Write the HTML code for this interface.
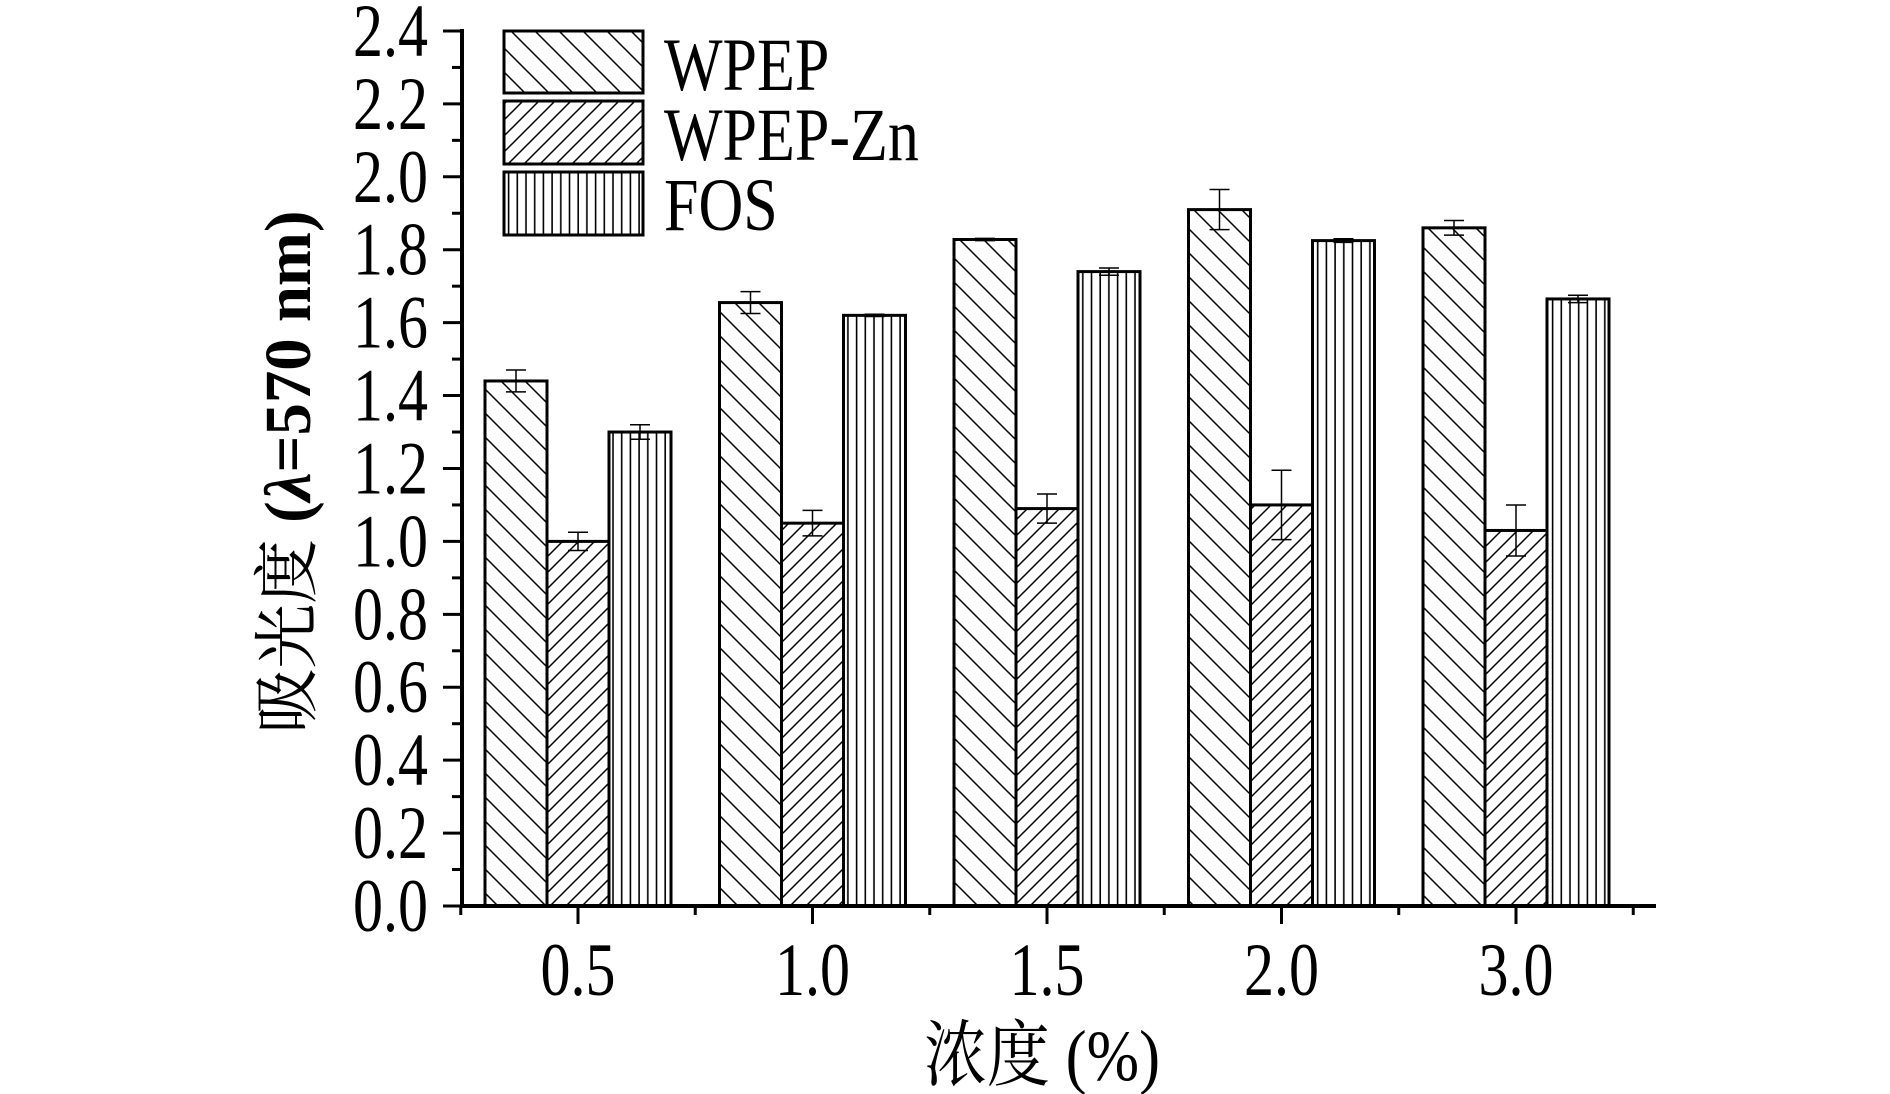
<!DOCTYPE html>
<html><head><meta charset="utf-8"><style>
html,body{margin:0;padding:0;background:#fff;}
svg{display:block;}
text{font-family:"Liberation Serif","Noto Serif CJK SC",serif;fill:#000;}
</style></head><body>
<svg width="1890" height="1094" viewBox="0 0 1890 1094" xmlns="http://www.w3.org/2000/svg">
<defs>
<pattern id="pb" patternUnits="userSpaceOnUse" width="24" height="24">
<rect width="24" height="24" fill="#fff"/>
<path d="M-6,-6 L30,30 M-6,18 L6,30 M18,-6 L30,6" stroke="#000" stroke-width="1.5"/>
</pattern>
<pattern id="pf" patternUnits="userSpaceOnUse" width="16" height="16">
<rect width="16" height="16" fill="#fff"/>
<path d="M-4,20 L20,-4 M-4,4 L4,-4 M12,20 L20,12" stroke="#000" stroke-width="1.5"/>
</pattern>
<pattern id="pv" patternUnits="userSpaceOnUse" width="8.7" height="10">
<rect width="8.7" height="10" fill="#fff"/>
<path d="M4,0 L4,10" stroke="#000" stroke-width="1.6"/>
</pattern>
</defs>
<g id="bars"></g>
<g stroke="#000" fill="none">
<line x1="462" y1="29" x2="462" y2="908" stroke-width="4"/>
<line x1="460" y1="906" x2="1656" y2="906" stroke-width="4"/>
</g>
<g id="ticks" stroke="#000" stroke-width="3"></g>
<g id="labels"></g>
<rect x="504" y="31" width="139" height="62" fill="url(#pb)" stroke="#000" stroke-width="3"/>
<rect x="504" y="101" width="139" height="63" fill="url(#pf)" stroke="#000" stroke-width="3"/>
<rect x="504" y="172" width="139" height="63" fill="url(#pv)" stroke="#000" stroke-width="3"/>
<text transform="translate(664,90) scale(1.0,1.22)" font-size="62">WPEP</text>
<text transform="translate(664,160) scale(1.0,1.22)" font-size="62">WPEP-Zn</text>
<text transform="translate(664,230) scale(1.0,1.22)" font-size="62">FOS</text>
<text transform="translate(1042,1080) scale(1.05,1.2)" font-size="60" text-anchor="middle">浓度 (%)</text>
<text transform="translate(310,472) rotate(-90) scale(1.08,1.1)" font-size="60" text-anchor="middle">吸光度 <tspan font-weight="bold">(<tspan font-style="italic">λ</tspan>=570 nm)</tspan></text>
<script>
var ns="http://www.w3.org/2000/svg";
function el(t,a,p){var e=document.createElementNS(ns,t);for(var k in a)e.setAttribute(k,a[k]);p.appendChild(e);return e;}
var y0=906,s=364.6;
function Y(v){return y0-v*s;}
var tk=document.getElementById('ticks'),lb=document.getElementById('labels');
for(var i=0;i<=24;i++){var v=i*0.1,y=Y(v);var maj=i%2==0;el('line',{x1:maj?443:452,y1:y,x2:462,y2:y},tk);
if(maj){var t=el('text',{transform:'translate(428,'+(y+25)+') scale(1.0,1.25)','font-size':60,'text-anchor':'end'},lb);t.textContent=v.toFixed(1);}}
var cats=['0.5','1.0','1.5','2.0','3.0'];
var W=[1.44,1.655,1.828,1.91,1.86],We=[.03,.03,.003,.055,.02];
var Z=[1.0,1.05,1.09,1.1,1.03],Ze=[.025,.035,.04,.095,.07];
var F=[1.3,1.62,1.74,1.825,1.665],Fe=[.02,.003,.01,.005,.01];
var bg=document.getElementById('bars');
for(var g=0;g<5;g++){var c=578+g*234.5;
el('line',{x1:c,y1:906,x2:c,y2:924},tk);
var m=c+117.25;el('line',{x1:m,y1:906,x2:m,y2:915},tk);
if(g==0)el('line',{x1:c-117.25,y1:906,x2:c-117.25,y2:915},tk);
var t=el('text',{transform:'translate('+c+',995) scale(1.0,1.25)','font-size':60,'text-anchor':'middle'},lb);t.textContent=cats[g];
var sets=[[W,We,'pb',c-93],[Z,Ze,'pf',c-31],[F,Fe,'pv',c+31]];
sets.forEach(function(sd){var v=sd[0][g],e=sd[1][g],x=sd[3];
el('rect',{x:x,y:Y(v),width:62,height:v*s,fill:'url(#'+sd[2]+')',stroke:'#000','stroke-width':3},bg);
var cx=x+31,yt=Y(v+e),yb=Y(v-e);
el('line',{x1:cx,y1:yt,x2:cx,y2:yb,stroke:'#000','stroke-width':1.5},bg);
el('line',{x1:cx-10,y1:yt,x2:cx+10,y2:yt,stroke:'#000','stroke-width':1.5},bg);
el('line',{x1:cx-10,y1:yb,x2:cx+10,y2:yb,stroke:'#000','stroke-width':1.5},bg);
});}
</script>
</svg>
</body></html>
